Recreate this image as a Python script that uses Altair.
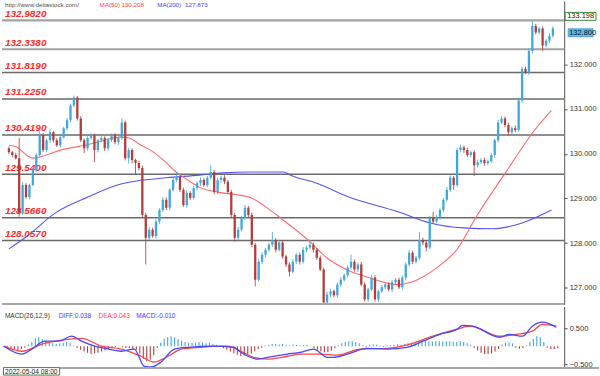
import altair as alt
import pandas as pd
import numpy as np

# ---------------- data ----------------
OPEN0 = 130.12
CLOSE = [
    130.03, 129.97, 129.90, 128.68, 129.30, 129.03, 129.30, 129.63, 129.97, 130.41,
    130.08, 130.30, 130.48, 130.30, 130.19, 130.37, 130.57, 130.75, 131.08, 131.26,
    130.79, 130.30, 130.12, 130.35, 130.41, 130.08, 130.30, 130.35, 130.12, 130.30,
    130.41, 130.26, 130.35, 130.70, 129.90, 130.08, 129.86, 129.79, 129.68, 128.63,
    128.12, 128.30, 128.16, 128.48, 128.74, 128.97, 128.79, 129.19, 129.41, 129.48,
    129.19, 128.85, 129.12, 129.01, 129.23, 129.34, 129.41, 129.30, 129.46, 129.59,
    129.14, 129.41, 129.46, 129.37, 129.14, 128.63, 128.12, 128.30, 128.56, 128.79,
    128.63, 127.96, 127.18, 127.58, 127.74, 127.85, 127.96, 128.07, 127.85, 128.01,
    127.70, 127.52, 127.36, 127.58, 127.74, 127.58, 127.85, 127.90, 127.96, 127.85,
    127.67, 127.41, 126.67, 126.85, 126.92, 126.83, 127.07, 127.18, 127.28, 127.45,
    127.58, 127.41, 127.52, 127.07, 126.74, 126.96, 127.23, 126.74, 126.92, 127.01,
    127.07, 126.96, 127.12, 127.18, 127.01, 127.23, 127.52, 127.78, 127.58, 127.67,
    128.07, 128.01, 127.90, 128.56, 128.48, 128.59, 128.74, 128.97, 129.19, 129.46,
    129.30, 130.08, 130.14, 130.08, 129.97, 130.03, 129.74, 129.81, 129.86, 129.79,
    129.83, 129.97, 130.30, 130.70, 130.79, 130.64, 130.48, 130.57, 130.53, 131.19,
    131.90, 131.82, 132.30, 132.86, 132.71, 132.80, 132.42, 132.53, 132.64, 132.80,
]
WICK_UP = [
    0.04, 0.03, 0.05, 0.45, 0.06, 0.04, 0.03, 0.05, 0.04, 0.16,
    0.05, 0.04, 0.06, 0.03, 0.05, 0.04, 0.03, 0.05, 0.04, 0.04,
    0.03, 0.05, 0.04, 0.06, 0.05, 0.04, 0.03, 0.05, 0.04, 0.06,
    0.04, 0.05, 0.03, 0.09, 0.04, 0.05, 0.04, 0.03, 0.05, 0.06,
    0.05, 0.06, 0.04, 0.05, 0.04, 0.06, 0.05, 0.04, 0.05, 0.11,
    0.04, 0.05, 0.06, 0.04, 0.05, 0.04, 0.06, 0.05, 0.04, 0.15,
    0.05, 0.04, 0.05, 0.06, 0.04, 0.05, 0.04, 0.06, 0.05, 0.06,
    0.04, 0.05, 0.04, 0.06, 0.05, 0.04, 0.05, 0.18, 0.04, 0.06,
    0.05, 0.04, 0.05, 0.06, 0.04, 0.05, 0.06, 0.04, 0.11, 0.05,
    0.04, 0.05, 0.04, 0.06, 0.05, 0.04, 0.05, 0.06, 0.04, 0.05,
    0.16, 0.05, 0.04, 0.06, 0.05, 0.04, 0.06, 0.05, 0.04, 0.05,
    0.04, 0.05, 0.06, 0.04, 0.05, 0.04, 0.05, 0.07, 0.05, 0.04,
    0.18, 0.05, 0.04, 0.05, 0.14, 0.04, 0.05, 0.04, 0.06, 0.05,
    0.04, 0.05, 0.06, 0.04, 0.05, 0.04, 0.05, 0.06, 0.04, 0.05,
    0.04, 0.05, 0.04, 0.06, 0.05, 0.04, 0.05, 0.04, 0.06, 0.05,
    0.04, 0.05, 0.06, 0.11, 0.05, 0.04, 0.05, 0.04, 0.06, 0.05,
]
WICK_DN = [
    0.04, 0.05, 0.03, 0.09, 0.05, 0.04, 0.05, 0.03, 0.04, 0.05,
    0.04, 0.05, 0.06, 0.05, 0.04, 0.05, 0.03, 0.04, 0.05, 0.04,
    0.05, 0.04, 0.11, 0.05, 0.04, 0.27, 0.05, 0.04, 0.06, 0.05,
    0.04, 0.05, 0.06, 0.04, 0.05, 0.12, 0.08, 0.27, 0.05, 0.06,
    0.60, 0.05, 0.04, 0.06, 0.05, 0.04, 0.05, 0.06, 0.04, 0.05,
    0.05, 0.04, 0.06, 0.05, 0.04, 0.05, 0.06, 0.04, 0.05, 0.04,
    0.05, 0.04, 0.06, 0.05, 0.04, 0.06, 0.09, 0.05, 0.04, 0.05,
    0.06, 0.05, 0.15, 0.04, 0.05, 0.06, 0.04, 0.05, 0.06, 0.04,
    0.05, 0.06, 0.11, 0.04, 0.05, 0.06, 0.04, 0.05, 0.04, 0.06,
    0.05, 0.04, 0.07, 0.05, 0.06, 0.04, 0.05, 0.06, 0.04, 0.05,
    0.04, 0.05, 0.06, 0.04, 0.05, 0.06, 0.04, 0.05, 0.06, 0.04,
    0.05, 0.04, 0.06, 0.05, 0.04, 0.05, 0.06, 0.04, 0.05, 0.04,
    0.05, 0.06, 0.09, 0.04, 0.05, 0.04, 0.06, 0.05, 0.04, 0.05,
    0.11, 0.04, 0.05, 0.06, 0.04, 0.05, 0.24, 0.05, 0.04, 0.06,
    0.05, 0.04, 0.06, 0.05, 0.04, 0.05, 0.07, 0.04, 0.05, 0.04,
    0.05, 0.04, 0.06, 0.05, 0.04, 0.05, 0.12, 0.04, 0.05, 0.04,
]

MA50_IDX = [0, 2.3, 5.1, 7.1, 10.9, 15.1, 22.3, 28, 32.3, 35.1, 38.6, 41.4, 45.1, 48.9,
            52.3, 55.7, 60.9, 66.6, 70.9, 75.1, 79.4, 88, 92.9, 98.6, 105.1, 113.7,
            117.4, 119.4, 125.1, 130.9, 136.6, 145.1, 153.7, 158.6]
MA50_VAL = [130.19, 130.15, 129.97, 129.90, 129.97, 130.08, 130.19, 130.30, 130.37, 130.35,
            130.19, 130.08, 129.86, 129.59, 129.41, 129.25, 129.14, 129.08, 129.01, 128.81,
            128.56, 128.03, 127.67, 127.41, 127.23, 127.07, 127.12, 127.18, 127.45, 127.85,
            128.59, 129.57, 130.53, 130.97]

MA200_IDX = [0, 5.1, 13.7, 23.1, 31.7, 37.4, 46, 55.7, 62.3, 70.9, 80.3, 82.3, 90, 99.4,
             113.7, 123.1, 132.9, 141.4, 150, 158.6]
MA200_VAL = [127.87, 128.14, 128.68, 129.03, 129.30, 129.39, 129.46, 129.52, 129.57, 129.59,
             129.59, 129.52, 129.34, 129.03, 128.70, 128.45, 128.34, 128.32, 128.45, 128.74]

DIFF_IDX = [0, 5.1, 8, 11.7, 15.7, 19.4, 22.3, 26, 30, 33.7, 37.4, 40.3, 42.3, 45.1, 48.9,
            52.9, 60.3, 66, 68, 70, 72.9, 75.7, 81.4, 85.1, 88.9, 92.9, 94.6, 98.6, 104.3,
            110, 115.7, 120.3, 125.1, 130, 131.7, 134.6, 142.3, 145.1, 148.9, 151.7, 154.6,
            158.6]
DIFF_VAL = [0.00, -0.22, -0.08, 0.14, 0.14, 0.28, 0.14, 0.00, -0.08, -0.14, -0.08, -0.56,
            -0.58, -0.44, -0.08, -0.03, 0.00, -0.03, -0.17, -0.28, -0.36, -0.31, -0.22, -0.17,
            -0.08, -0.31, -0.31, -0.22, -0.06, -0.08, -0.03, 0.14, 0.33, 0.47, 0.58, 0.56,
            0.25, 0.33, 0.28, 0.56, 0.67, 0.53]

DEA_IDX = [0, 5.1, 10.9, 16.6, 22.3, 28, 33.7, 39.4, 43.1, 47.1, 50.9, 56.6, 64.3, 68, 71.7,
           75.7, 81.4, 85.1, 90.9, 95.7, 102.3, 110, 116.6, 123.1, 130, 133.7, 142.3, 147.1,
           151.7, 154.6, 158.6]
DEA_VAL = [0.00, -0.14, 0.06, 0.17, 0.22, 0.00, -0.08, -0.28, -0.44, -0.28, -0.08, -0.03,
           0.00, -0.14, -0.31, -0.36, -0.28, -0.22, -0.22, -0.25, -0.08, -0.06, 0.06, 0.28,
           0.47, 0.56, 0.28, 0.33, 0.42, 0.61, 0.56]

HIST = [
    -0.03, -0.05, -0.06, -0.08, -0.10, -0.08, -0.04, 0.05, 0.12, 0.22,
    0.25, 0.20, 0.15, 0.10, 0.08, 0.06, 0.08, 0.10, 0.12, 0.10,
    0.02, -0.05, -0.10, -0.15, -0.18, -0.22, -0.20, -0.18, -0.15, -0.12,
    -0.08, -0.05, -0.02, 0.01, -0.03, -0.05, -0.06, -0.08, -0.10, -0.20,
    -0.35, -0.42, -0.38, -0.25, -0.05, 0.10, 0.20, 0.26, 0.28, 0.25,
    0.20, 0.15, 0.12, 0.10, 0.10, 0.10, 0.12, 0.10, 0.08, 0.10,
    0.06, 0.04, -0.02, -0.06, -0.10, -0.15, -0.20, -0.24, -0.28, -0.26,
    -0.24, -0.20, -0.14, -0.08, -0.04, 0.02, 0.04, 0.06, 0.06, 0.05,
    0.06, 0.04, 0.03, 0.05, 0.04, 0.02, 0.03, 0.04, 0.00, -0.05,
    -0.10, -0.15, -0.17, -0.16, -0.12, -0.06, 0.03, 0.08, 0.12, 0.14,
    0.14, 0.12, 0.08, 0.03, -0.03, 0.04, 0.05, 0.04, 0.02, -0.02,
    0.02, 0.03, 0.04, 0.05, 0.04, 0.06, 0.08, 0.10, 0.10, 0.12,
    0.13, 0.14, 0.13, 0.14, 0.14, 0.14, 0.13, 0.14, 0.14, 0.13,
    0.12, 0.14, 0.12, 0.08, 0.04, -0.05, -0.12, -0.18, -0.22, -0.22,
    -0.20, -0.15, -0.08, 0.05, 0.10, 0.11, 0.08, -0.04, -0.07, -0.05,
    0.03, 0.12, 0.20, 0.28, 0.25, 0.12, -0.04, -0.08, -0.08, -0.06,
]

LEVELS = [132.982, 132.338, 131.819, 131.225, 130.419, 129.540, 128.566, 128.057]
LEVEL_LABELS = ["132.9820", "132.3380", "131.8190", "131.2250",
                "130.4190", "129.5400", "128.5660", "128.0570"]
LEVEL_STYLE = ["light", "light", "dark", "dark", "dark", "dark", "dark", "dark"]
PRICE_TICKS = [127.0, 127.5, 128.0, 128.5, 129.0, 129.5, 130.0, 130.5,
               131.0, 131.5, 132.0, 132.5, 133.0]
MACD_TICKS = [-0.5, 0.0, 0.5]

# ---------------- frames ----------------
n = len(CLOSE)
assert n == len(WICK_UP) == len(WICK_DN) == len(HIST) == 160
opens = [OPEN0] + CLOSE[:-1]
df = pd.DataFrame({"i": np.arange(n), "open": opens, "close": CLOSE})
df["high"] = df[["open", "close"]].max(axis=1) + np.array(WICK_UP)
df["low"] = df[["open", "close"]].min(axis=1) - np.array(WICK_DN)
df["dir"] = np.where(df["close"] >= df["open"], "up", "down")

ma50 = pd.DataFrame({"i": MA50_IDX, "v": MA50_VAL})
ma200 = pd.DataFrame({"i": MA200_IDX, "v": MA200_VAL})
diff = pd.DataFrame({"i": DIFF_IDX, "v": DIFF_VAL})
dea = pd.DataFrame({"i": DEA_IDX, "v": DEA_VAL})
hist = pd.DataFrame({"i": np.arange(n), "v": HIST, "z": 0.0})
hist["sign"] = np.where(hist["v"] >= 0, "pos", "neg")
levels = pd.DataFrame({"y": LEVELS, "label": LEVEL_LABELS, "style": LEVEL_STYLE})
one = pd.DataFrame({"a": [0]})

UP = "#3fa7dc"
DOWN = "#b43c3c"
W = 565
FONT = "Liberation Sans"

xscale = alt.Scale(domain=[-0.57, 160.85], nice=False, zero=False)
yscale = alt.Scale(domain=[126.626, 133.419], nice=False, zero=False)
X = alt.X("i:Q", scale=xscale, axis=None)
col = alt.Color("dir:N", scale=alt.Scale(domain=["up", "down"], range=[UP, DOWN]), legend=None)

price_axis = alt.Axis(orient="right", values=PRICE_TICKS, title=None, grid=False,
                      labelExpr="datum.value >= 133 ? '' : format(datum.value, '.3f')",
                      tickSize=3, labelPadding=2, domainColor="#555555", tickColor="#555555",
                      labelColor="#333333", labelFontSize=7.5, labelFont=FONT)

base = alt.Chart(df)

lev_light = alt.Chart(levels).transform_filter("datum.style == 'light'").mark_rule(
    color="#a3a3a3", strokeWidth=2.2).encode(y=alt.Y("y:Q", scale=yscale, axis=price_axis))
lev_dark = alt.Chart(levels).transform_filter("datum.style == 'dark'").mark_rule(
    color="#6a6a6a", strokeWidth=1.5).encode(y=alt.Y("y:Q", scale=yscale))
lev_text = alt.Chart(levels).mark_text(
    align="left", baseline="bottom", dy=-1.5, font=FONT, fontSize=10, fontWeight="bold",
    fontStyle="italic", color="#ff2a2a").encode(
    x=alt.value(3), y=alt.Y("y:Q", scale=yscale), text="label:N")

wicks = base.mark_rule(strokeWidth=1, clip=True, opacity=0.85).encode(
    x=X, y=alt.Y("low:Q", scale=yscale), y2="high:Q", color=col)
bodies = base.mark_bar(size=2.3, clip=True).encode(
    x=X, y=alt.Y("open:Q", scale=yscale), y2="close:Q", color=col)

ma50_line = alt.Chart(ma50).mark_line(color="#ff6a6a", strokeWidth=1.1, interpolate="monotone").encode(
    x=alt.X("i:Q", scale=xscale, axis=None), y=alt.Y("v:Q", scale=yscale))
ma200_line = alt.Chart(ma200).mark_line(color="#5555ee", strokeWidth=1.1, interpolate="monotone").encode(
    x=alt.X("i:Q", scale=xscale, axis=None), y=alt.Y("v:Q", scale=yscale))


def label(text, x, y, color, size=7, weight="normal"):
    return alt.Chart(one).mark_text(text=text, align="left", baseline="middle", font=FONT,
                                    fontSize=size, color=color, fontWeight=weight).encode(
        x=alt.value(x), y=alt.value(y))


header = (label("http://www.deltastock.com/", 3, 4.5, "#505050", size=6.3)
          + label("MA(50)", 98, 4.5, "#ff3b3b", size=6.3) + label("130.208", 120, 4.5, "#ff3b3b", size=6.3)
          + label("MA(200)", 156, 4.5, "#3b3bff", size=6.3) + label("127.873", 184, 4.5, "#3b3bff", size=6.3))

box1 = alt.Chart(one).mark_rect(fill="white", stroke="#3a8a3a", strokeWidth=1).encode(
    x=alt.value(566), x2=alt.value(597), y=alt.value(11.5), y2=alt.value(19.5))
box1t = label("133.198", 568, 15.5, "#222222", size=7.5)
box2 = alt.Chart(one).mark_rect(fill="#62b9ea", stroke="#4aa6dc", strokeWidth=1).encode(
    x=alt.value(569), x2=alt.value(594), y=alt.value(28), y2=alt.value(36))
box2t = label("132.800", 570, 32, "#111111", size=7.5)

bottom_line = alt.Chart(one).mark_rule(color="#a8a8a8", strokeWidth=2).encode(
    x=alt.value(0), x2=alt.value(W), y=alt.value(304.5))

main = alt.layer(lev_light, lev_dark, lev_text, ma200_line, ma50_line, wicks, bodies, header,
                 bottom_line, box1, box1t, box2, box2t).properties(width=W, height=305)

# ---------------- MACD panel ----------------
my = alt.Scale(domain=[-0.583, 1.111], nice=False, zero=False)
macd_axis = alt.Axis(orient="right", values=MACD_TICKS, format=".3f", title=None, grid=False,
                     tickSize=3, labelPadding=2, domainColor="#555555", tickColor="#555555",
                     labelColor="#333333", labelFontSize=7.5, labelFont=FONT)
hbars = alt.Chart(hist).mark_rule(strokeWidth=1.1).encode(
    x=alt.X("i:Q", scale=xscale, axis=None),
    y=alt.Y("v:Q", scale=my, axis=macd_axis), y2="z:Q",
    color=alt.Color("sign:N", scale=alt.Scale(domain=["pos", "neg"], range=["#86c8e6", "#c25c5c"]), legend=None))
dea_line = alt.Chart(dea).mark_line(color="#ff4444", strokeWidth=1.3, interpolate="monotone").encode(
    x=alt.X("i:Q", scale=xscale, axis=None), y=alt.Y("v:Q", scale=my))
diff_line = alt.Chart(diff).mark_line(color="#4646ff", strokeWidth=1.3, interpolate="monotone").encode(
    x=alt.X("i:Q", scale=xscale, axis=None), y=alt.Y("v:Q", scale=my))

macd_title = (label("MACD(26,12,9)", 3, 10, "#333333", size=6.5) + label("DIFF:0.038", 57, 10, "#3b3bff", size=6.5)
              + label("DEA:0.043", 97, 10, "#ff3b3b", size=6.5) + label("MACD:-0.010", 135, 10, "#3b3bff", size=6.5))
macd_bottom = alt.Chart(one).mark_rule(color="#a8a8a8", strokeWidth=2).encode(
    x=alt.value(58), x2=alt.value(600), y=alt.value(62))
date_box = alt.Chart(one).mark_rect(fill="white", stroke="#4a7a4a", strokeWidth=1).encode(
    x=alt.value(1.5), x2=alt.value(58), y=alt.value(61.5), y2=alt.value(69))
date_text = label("2022-05-04 08:00", 3, 65.5, "#222222", size=6.7)

macd = alt.layer(hbars, dea_line, diff_line, macd_title, macd_bottom, date_box, date_text
                 ).properties(width=W, height=61)

chart = alt.vconcat(main, macd, spacing=2, bounds="flush").properties(
    padding={"left": 0, "top": 0, "right": 0, "bottom": 0}, background="white"
).configure_view(stroke=None)

chart.save("out.html", embed_options={"renderer": "svg", "actions": False})
